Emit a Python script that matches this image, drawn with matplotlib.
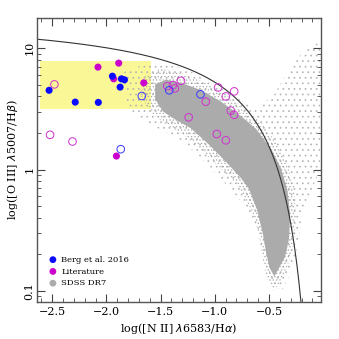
import numpy as np
import matplotlib
matplotlib.use("Agg")
import matplotlib.pyplot as plt
from matplotlib.patches import Polygon, Rectangle
from matplotlib.ticker import FixedLocator, NullFormatter, LogLocator, MultipleLocator

plt.rcParams['font.family'] = ['DejaVu Serif']
plt.rcParams['hatch.linewidth'] = 0.5

# ---- data (log [N II]/Ha , [O III]/Hb) ----
berg_filled_x = [-2.528, -2.287, -2.074, -1.944, -1.861, -1.833, -1.873]
berg_filled_y = [4.49, 3.59, 3.57, 5.87, 5.58, 5.48, 4.77]
berg_open_x = [-1.673, -1.867, -1.420, -1.132]
berg_open_y = [4.03, 1.47, 4.49, 4.16]
lit_filled_x = [-2.077, -1.886, -1.932, -1.655, -1.907]
lit_filled_y = [6.97, 7.52, 5.58, 5.17, 1.29]
lit_open_x = [-2.479, -2.519, -2.312, -1.438, -1.386, -1.368, -1.312, -0.969,
              -0.898, -0.821, -1.083, -1.241, -0.852, -0.821, -0.981, -0.898]
lit_open_y = [5.02, 1.93, 1.70, 4.86, 4.96, 4.65, 5.38, 4.74,
              4.00, 4.40, 3.62, 2.69, 3.05, 2.82, 1.96, 1.74]

# SDSS DR7 cloud outlines (x, log y)
core_x = [-1.55, -1.45, -1.315, -1.130, -0.944, -0.759, -0.620, -0.481, -0.389, -0.330,
          -0.305, -0.315, -0.352, -0.407, -0.450, -0.495, -0.525, -0.556, -0.611, -0.685,
          -0.759, -0.898, -1.065, -1.222, -1.380, -1.48, -1.55]
core_logy = [0.70, 0.74, 0.715, 0.655, 0.560, 0.440, 0.335, 0.170, 0.010, -0.170,
             -0.376, -0.570, -0.720, -0.810, -0.880, -0.810, -0.690, -0.530, -0.330, -0.160,
             -0.070, 0.065, 0.215, 0.340, 0.420, 0.480, 0.58]
fringe_x = [-1.66, -1.50, -1.30, -1.10, -0.90, -0.72, -0.58, -0.44, -0.34, -0.27,
            -0.25, -0.27, -0.33, -0.40, -0.46, -0.52, -0.56, -0.59, -0.65, -0.74,
            -0.82, -0.96, -1.12, -1.28, -1.45, -1.58, -1.68]
fringe_logy = [0.76, 0.83, 0.79, 0.72, 0.62, 0.50, 0.39, 0.23, 0.06, -0.14,
               -0.38, -0.62, -0.80, -0.93, -1.00, -0.90, -0.72, -0.54, -0.36, -0.20,
               -0.10, 0.02, 0.16, 0.28, 0.37, 0.46, 0.60]
halo_x = [-1.85, -1.60, -1.40, -1.20, -1.00, -0.80, -0.62, -0.45, -0.30, -0.15, -0.03,
          -0.03, -0.12, -0.20, -0.24, -0.30, -0.38, -0.46, -0.54, -0.60, -0.66, -0.78,
          -0.98, -1.18, -1.38, -1.58, -1.80]
halo_logy = [0.80, 0.88, 0.86, 0.80, 0.70, 0.60, 0.50, 0.62, 0.85, 1.00, 1.05,
             0.00, -0.20, -0.40, -0.65, -0.85, -1.00, -0.95, -0.75, -0.55, -0.38, -0.24,
             -0.04, 0.14, 0.28, 0.36, 0.50]

# selection box
box_x = [-2.61, -1.59]
box_y = [3.15, 7.8]

# Kauffmann et al. 2003 demarcation
ka_a, ka_b, ka_c = 0.61, 0.05, 1.30

fig = plt.figure(figsize=(3.39, 3.39), dpi=100)
ax = fig.add_axes([0.109, 0.109, 0.838, 0.838])
ax.set_yscale('log')
ax.set_xlim(-2.64, -0.02)
ax.set_ylim(0.081, 17.7)

gray = '#ababab'
ax.add_patch(Rectangle((box_x[0], box_y[0]), box_x[1] - box_x[0], box_y[1] - box_y[0],
                       facecolor='#faf797', edgecolor='none', zorder=0))
ax.add_patch(Polygon(np.column_stack([halo_x, 10 ** np.array(halo_logy)]), closed=True,
                     facecolor='none', edgecolor='#b4b4b4', lw=0, hatch='...', zorder=1))
ax.add_patch(Polygon(np.column_stack([fringe_x, 10 ** np.array(fringe_logy)]), closed=True,
                     facecolor='none', edgecolor='#a8a8a8', lw=0, hatch='.....', zorder=1))
ax.add_patch(Polygon(np.column_stack([core_x, 10 ** np.array(core_logy)]), closed=True,
                     facecolor=gray, edgecolor='none', zorder=1))

xk = np.linspace(-2.7, -0.205, 400)
ax.plot(xk, 10 ** (ka_a / (xk - ka_b) + ka_c), color='#333333', lw=0.8, zorder=2)

blue = '#0a0aff'
mag = '#cc00cc'
ax.scatter(lit_open_x, lit_open_y, s=30, facecolors='none', edgecolors='#d030d0', linewidths=0.7, zorder=3)
ax.scatter(berg_open_x, berg_open_y, s=30, facecolors='none', edgecolors='#3a3aff', linewidths=0.7, zorder=3)
ax.scatter(lit_filled_x, lit_filled_y, s=26, color=mag, edgecolors='none', zorder=4)
ax.scatter(berg_filled_x, berg_filled_y, s=26, color=blue, edgecolors='none', zorder=4)

# legend
h1 = ax.scatter([], [], s=24, color=blue, edgecolors='none', label='Berg et al. 2016')
h2 = ax.scatter([], [], s=24, color=mag, edgecolors='none', label='Literature')
h3 = ax.scatter([], [], s=24, color=gray, edgecolors='none', label='SDSS DR7')
leg = ax.legend(handles=[h1, h2, h3], loc='lower left', frameon=False, fontsize=6,
                handletextpad=0.0, labelspacing=0.45, borderaxespad=0.0,
                bbox_to_anchor=(0.015, 0.04))

ax.xaxis.set_major_locator(MultipleLocator(0.5))
ax.xaxis.set_minor_locator(MultipleLocator(0.1))
ax.yaxis.set_major_locator(FixedLocator([0.1, 1, 10]))
ax.yaxis.set_minor_locator(LogLocator(base=10, subs=np.arange(2, 10)))
ax.yaxis.set_minor_formatter(NullFormatter())
ax.set_yticklabels(['0.1', '1', '10'], rotation=90, va='center')
ax.tick_params(which='both', direction='in', top=True, right=True, labelsize=8, color='#444444')
ax.tick_params(which='major', length=6, width=0.8)
ax.tick_params(which='minor', length=3, width=0.6)
ax.tick_params(axis='y', pad=2)
for s in ax.spines.values():
    s.set_color('#555555')
    s.set_linewidth(1.0)

ax.set_xlabel(r'log([N II] $\lambda$6583/H$\alpha$)', fontsize=8, labelpad=3)
ax.set_ylabel(r'log([O III] $\lambda$5007/H$\beta$)', fontsize=8, labelpad=3)

fig.savefig('out.png', dpi=100)
